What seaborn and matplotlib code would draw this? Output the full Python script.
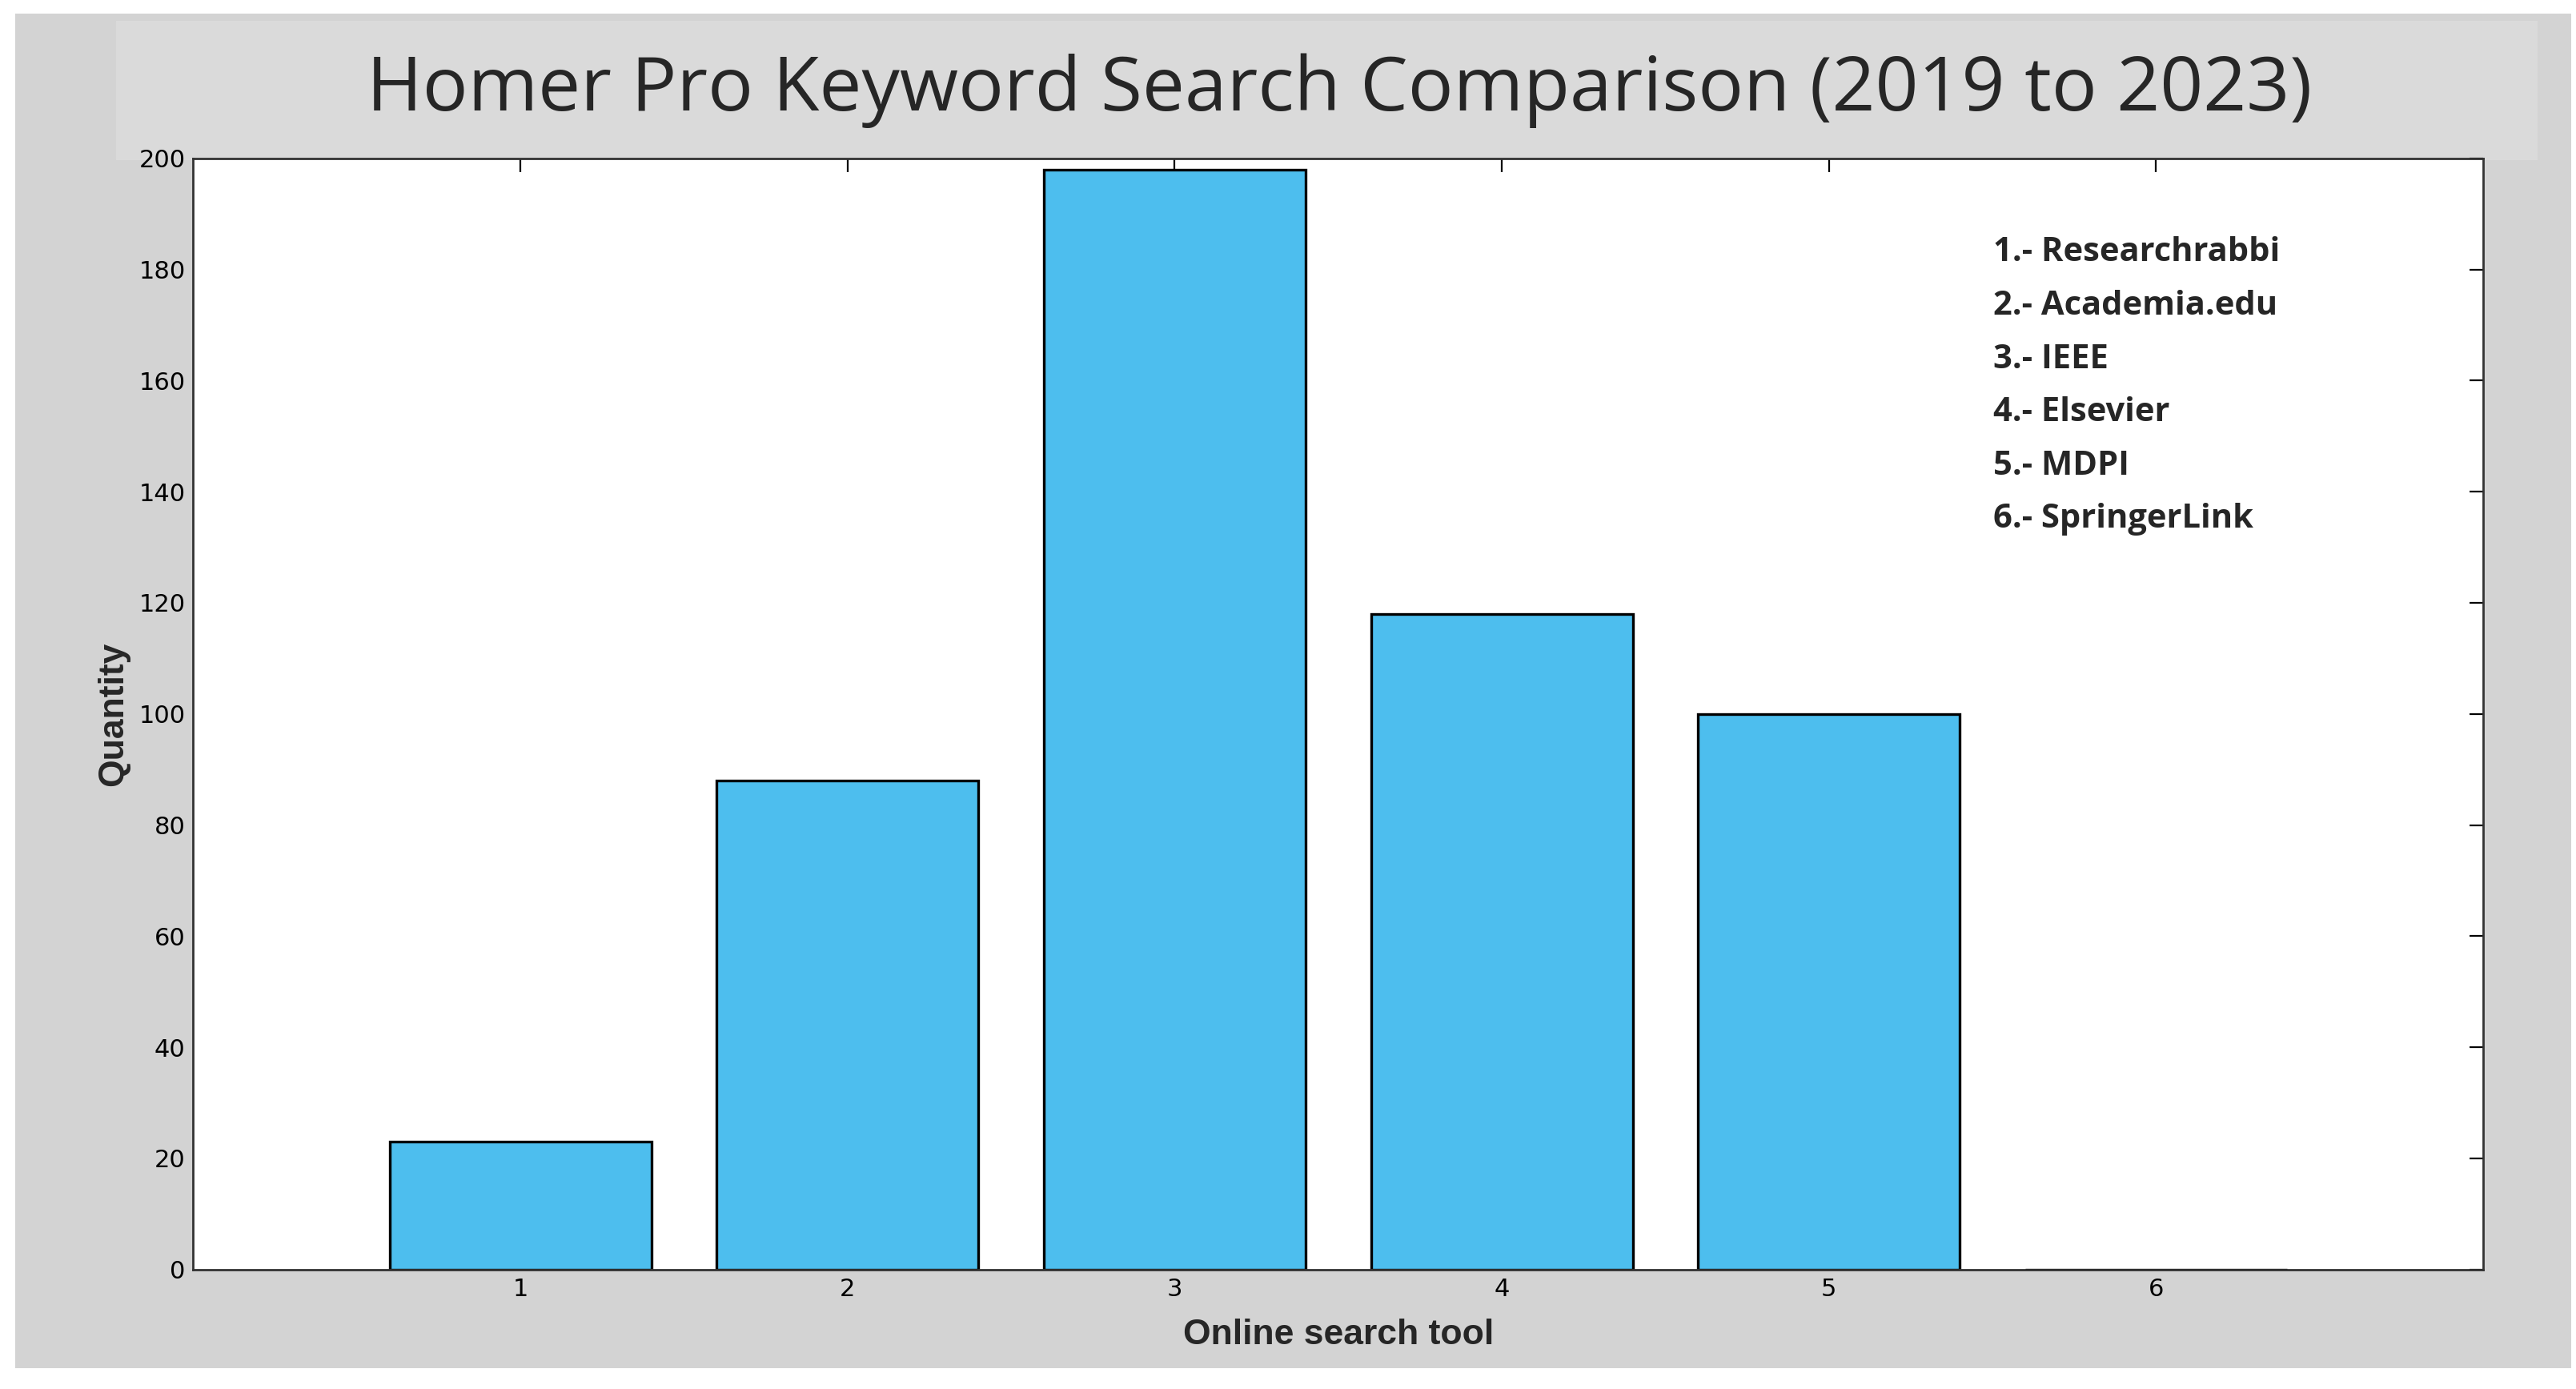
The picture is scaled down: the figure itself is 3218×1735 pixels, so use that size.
import matplotlib
matplotlib.use("Agg")
import matplotlib.pyplot as plt
import seaborn as sns
from matplotlib.patches import Rectangle

tools = [1, 2, 3, 4, 5, 6]
quantity = [23, 88, 198, 118, 100, 0]
legend_lines = ["1.- Researchrabbi", "2.- Academia.edu", "3.- IEEE", "4.- Elsevier", "5.- MDPI", "6.- SpringerLink"]

sns.set_style("white")
fig = plt.figure(figsize=(16.09, 8.675), dpi=200)
fig.patch.set_facecolor("white")
fig.patches.append(Rectangle((0.006, 0.015), 0.992, 0.975, transform=fig.transFigure, facecolor="#d3d3d3", edgecolor="none", zorder=-2))
fig.patches.append(Rectangle((0.045, 0.885), 0.94, 0.1, transform=fig.transFigure, facecolor="#dadada", edgecolor="none", zorder=-1))
ax = fig.add_axes([0.075, 0.086, 0.889, 0.800])
sns.barplot(x=tools, y=quantity, native_scale=True, color="#4DBEEE", saturation=1, edgecolor="black", linewidth=1.2, ax=ax, width=0.8)
ax.set_xlim(0, 7)
ax.set_ylim(0, 200)
ax.set_xticks(tools)
ax.set_yticks(range(0, 201, 20))
ax.tick_params(direction="in", length=6, top=True, right=True, labelsize=11, colors="black")
for s in ax.spines.values():
    s.set_color("#333333"); s.set_linewidth(1)
ax.set_xlabel("Online search tool", fontsize=16, fontweight="bold", family="Liberation Sans", labelpad=8)
ax.set_ylabel("Quantity", fontsize=16, fontweight="bold", family="Liberation Sans")
fig.text(0.52, 0.935, "Homer Pro Keyword Search Comparison (2019 to 2023)", ha="center", va="center", fontsize=34, family="Open Sans")
for i, t in enumerate(legend_lines):
    ax.text(0.786, 0.915 - i * 0.048, t, transform=ax.transAxes, fontsize=15, fontweight="bold", family="Open Sans", va="center")
fig.savefig("out.png", dpi=200)
